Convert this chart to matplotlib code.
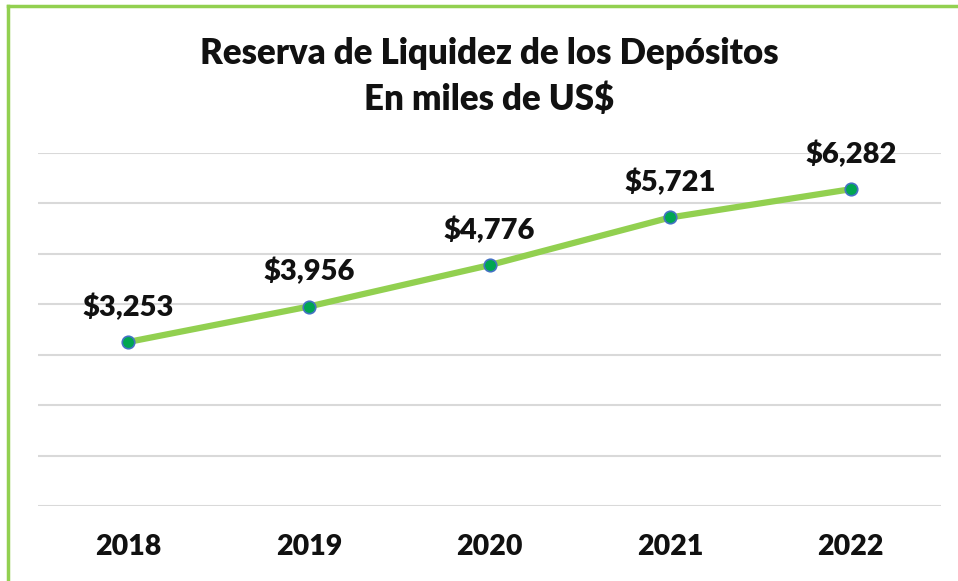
import matplotlib.pyplot as plt
from matplotlib.lines import Line2D

years = ['2018', '2019', '2020', '2021', '2022']
reserva = [3253, 3956, 4776, 5721, 6282]
labels = ['$3,253', '$3,956', '$4,776', '$5,721', '$6,282']

plt.rcParams['font.family'] = ['Lato', 'DejaVu Sans']

fig = plt.figure(figsize=(9.58, 5.81), dpi=100)
ax = fig.add_axes([38/958, 1 - 506/581, (941-38)/958, (506-153)/581])

x = range(len(years))
ax.plot(x, reserva, color='#92D050', lw=4.5, marker='o', markersize=9,
        markerfacecolor='#00A651', markeredgecolor='#4472C4', markeredgewidth=1.2,
        solid_capstyle='round', zorder=3)

for i, (v, t) in enumerate(zip(reserva, labels)):
    ax.annotate(t, (i, v), xytext=(0, 26), textcoords='offset pixels',
                ha='center', va='baseline', fontsize=21, fontweight='heavy', color='#111111')

ax.set_xlim(-0.5, 4.5)
ax.set_ylim(0, 7000)
ax.set_yticks(range(0, 7001, 1000))
ax.yaxis.grid(True, color='#D9D9D9', lw=1.5)
ax.set_axisbelow(True)
ax.set_yticklabels([])
ax.tick_params(axis='y', length=0)
ax.set_xticks(list(x))
ax.set_xticklabels(years, fontsize=20.5, fontweight='heavy', color='#111111')
ax.tick_params(axis='x', length=0, pad=20)
for s in ax.spines.values():
    s.set_visible(False)

fig.text(0.511, 1 - 53/581, 'Reserva de Liquidez de los Depósitos', ha='center', va='center',
         fontsize=25, fontweight='heavy', color='#111111')
fig.text(0.511, 1 - 99/581, 'En miles de US$', ha='center', va='center',
         fontsize=25, fontweight='heavy', color='#111111')

# green frame (top and left edges visible)
fig.add_artist(Line2D([8/958, 1.0], [1 - 6/581, 1 - 6/581], color='#92D050', lw=2.5,
                      transform=fig.transFigure))
fig.add_artist(Line2D([8/958, 8/958], [0, 1 - 6/581], color='#92D050', lw=2.5,
                      transform=fig.transFigure))

fig.savefig('out.png', dpi=100)
